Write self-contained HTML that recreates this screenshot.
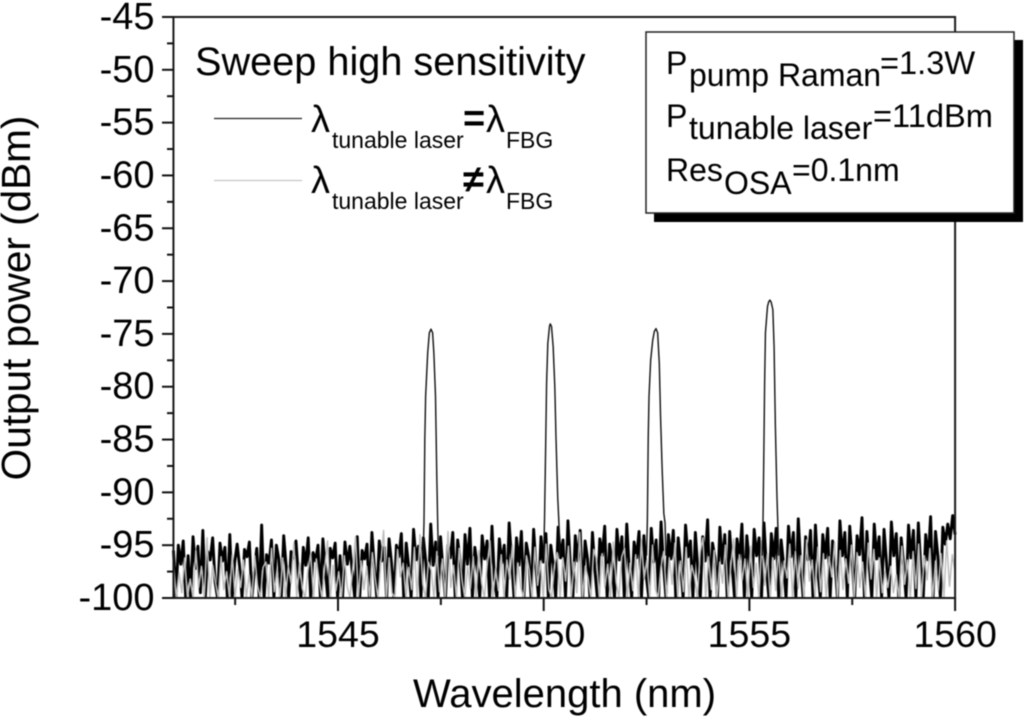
<!DOCTYPE html>
<html lang="en">
<head>
<meta charset="utf-8">
<title>Output power vs wavelength</title>
<style>
html,body{margin:0;padding:0;background:#fff;}
svg{display:block;font-family:"Liberation Sans",Arial,sans-serif;fill:#000;filter:blur(0.4px);}
</style>
</head>
<body>
<svg id="chart" xmlns="http://www.w3.org/2000/svg" width="1024" height="722" viewBox="0 0 1024 722">
  <g id="plot"></g>
  <g id="axes"></g>
  <text transform="translate(30,298) rotate(-90)" text-anchor="middle" font-size="40.5">Output power (dBm)</text>
  <text x="564.5" y="707" text-anchor="middle" font-size="40">Wavelength (nm)</text>

  <g>
    <text x="195" y="75" font-size="39.7">Sweep high sensitivity</text>
    <line x1="214" x2="302" y1="118.5" y2="118.5" stroke="#222" stroke-width="1.3"/>
    <text font-size="23">
      <tspan x="311" y="132" font-size="38">λ</tspan><tspan x="332" y="148">tunable laser</tspan><tspan x="463" y="131" font-size="38" font-weight="bold">=</tspan><tspan x="486" y="132" font-size="38">λ</tspan><tspan x="506" y="148">FBG</tspan>
    </text>
    <line x1="214" x2="302" y1="180.5" y2="180.5" stroke="#c4c4c4" stroke-width="1.3"/>
    <text font-size="23">
      <tspan x="311" y="193" font-size="38">λ</tspan><tspan x="332" y="209">tunable laser</tspan><tspan x="463" y="192" font-size="38" font-weight="bold">≠</tspan><tspan x="486" y="193" font-size="38">λ</tspan><tspan x="506" y="209">FBG</tspan>
    </text>
  </g>

  <g>
    <rect x="654" y="40" width="369" height="182" fill="#000"/>
    <rect x="646" y="32" width="368" height="181" fill="#fff" stroke="#222" stroke-width="1.5"/>
    <text font-size="32">
      <tspan x="666" y="74">P</tspan><tspan x="689" y="86">pump Raman</tspan><tspan x="880" y="74" font-size="32.6">=1.3W</tspan>
    </text>
    <text font-size="32">
      <tspan x="666" y="127">P</tspan><tspan x="689" y="139">tunable laser</tspan><tspan x="873" y="127" font-size="32.6">=11dBm</tspan>
    </text>
    <text font-size="32">
      <tspan x="666" y="181">Res</tspan><tspan x="724" y="194">OSA</tspan><tspan x="792" y="181">=0.1nm</tspan>
    </text>
  </g>
</svg>
<script>
// ----- chart data -----
const xTickLabels = [1545, 1550, 1555, 1560];
const yTickLabels = [-45, -50, -55, -60, -65, -70, -75, -80, -85, -90, -95, -100];
const xMinorTicks = [1542.5, 1547.5, 1552.5, 1557.5];
const yMinorTicks = [-47.5, -52.5, -57.5, -62.5, -67.5, -72.5, -77.5, -82.5, -87.5, -92.5, -97.5];
const noiseStartNm = 1541;
const noiseEndNm = 1560;

const noiseMatched = [
-95.5,-100,-95.0,-96.8,-94.6,-100,-96.0,-100,-94.2,-97.2,-95.1,-99.5,-93.6,-100,-95.6,-96.4,-94.3,-98.5,-100,-94.8,
-96.5,-95.2,-100,-94.0,-100,-96.6,-94.9,-97.0,-100,-95.4,-96.1,-94.7,-100,-97.5,-95.3,-100,-93.1,-100,-95.9,-96.7,
-94.5,-100,-95.0,-96.3,-100,-94.1,-97.0,-100,-95.6,-96.2,-94.6,-98.0,-100,-95.2,-96.9,-94.3,-100,-95.7,-96.5,-95.0,
-100,-94.4,-97.4,-100,-95.3,-96.2,-94.8,-100,-96.0,-100,-94.7,-96.8,-95.1,-97.6,-100,-94.2,-100,-95.5,-96.3,-94.9,
-100,-93.8,-97.1,-100,-94.6,-96.5,-95.2,-100,-94.4,-96.7,-100,-95.0,-96.1,-93.9,-100,-94.8,-97.0,-100,-93.5,-96.4,
-95.1,-100,-94.3,-96.6,-100,-93.0,-96.9,-94.7,-100,-94.2,-97.3,-100,-95.0,-96.2,-93.8,-100,-94.5,-96.5,-100,-94.0,
-96.8,-93.4,-100,-95.2,-97.0,-100,-94.1,-96.3,-94.6,-100,-93.2,-98.2,-100,-94.4,-96.7,-95.0,-100,-92.9,-96.4,-100,
-94.3,-96.9,-93.7,-100,-94.8,-96.1,-100,-93.5,-97.2,-100,-94.2,-96.6,-93.9,-100,-95.0,-96.8,-100,-93.3,-96.2,-94.5,
-100,-92.7,-97.0,-100,-94.1,-96.5,-93.6,-100,-94.6,-96.3,-100,-93.8,-97.4,-100,-94.4,-96.0,-93.2,-100,-94.9,-96.7,
-100,-93.5,-96.4,-94.2,-100,-93.0,-97.1,-100,-94.7,-96.2,-93.7,-100,-94.1,-98.0,-100,-93.4,-96.6,-94.5,-100,-92.8,
-96.9,-100,-94.0,-96.3,-93.6,-100,-94.3,-96.8,-100,-93.1,-96.1,-94.6,-100,-93.8,-97.3,-100,-94.2,-96.5,-92.6,-100,
-94.8,-96.2,-100,-93.3,-96.7,-94.0,-100,-93.7,-97.0,-100,-94.4,-96.4,-93.0,-100,-94.1,-96.6,-100,-93.5,-96.0,-94.3,
-100,-92.9,-97.2,-100,-93.9,-96.3,-93.4,-100,-94.5,-96.8,-100,-93.2,-96.1,-93.8,-100,-92.5,-96.9,-100,-94.2,-96.4,
-93.6,-100,-93.1,-97.5,-100,-94.0,-96.2,-93.4,-100,-94.6,-96.7,-100,-92.7,-96.0,-93.8,-100,-93.2,-96.5,-100,-94.1,
-95.9,-92.4,-100,-93.7,-97.1,-100,-93.0,-96.3,-94.2,-100,-93.5,-96.6,-100,-92.8,-96.0,-93.9,-100,-94.3,-96.8,-100,
-93.1,-96.2,-93.6,-100,-92.9,-97.0,-100,-94.0,-96.4,-92.3,-100,-93.7,-96.1,-100,-93.3,-94.9,-93.0,-94.4,-92.2,-94.0
];

const noiseMismatched = [
-96.8,-100,-97.6,-99.5,-96.2,-100,-98.2,-100,-95.5,-99,-97.0,-100,-94.3,-100,-96.9,-98.5,-100,-96.1,-99.2,-97.5,
-100,-95.9,-100,-97.3,-99,-96.4,-100,-97.8,-100,-96.0,-98.8,-100,-97.1,-96.6,-100,-95.3,-99.4,-97.3,-100,-96.2,
-100,-97.0,-98.6,-94.8,-100,-96.7,-99.1,-100,-97.4,-95.8,-100,-96.3,-98.4,-100,-97.1,-94.6,-100,-96.9,-99.3,-97.5,
-100,-96.0,-98.9,-100,-97.2,-94.2,-100,-96.5,-99.2,-97.0,-100,-95.7,-98.1,-100,-96.8,-93.6,-100,-96.2,-99.5,-100,
-95.4,-98.0,-96.7,-100,-97.1,-99.2,-95.2,-100,-94.0,-98.7,-100,-96.6,-97.4,-100,-95.6,-99.4,-96.3,-100,-93.7,-99.0,
-96.9,-100,-95.3,-98.3,-100,-97.0,-99.1,-96.1,-100,-95.5,-98.6,-100,-96.8,-94.6,-100,-97.2,-99.3,-95.9,-100,-96.4,
-98.2,-95.0,-100,-96.7,-99.0,-100,-96.0,-97.3,-100,-95.2,-98.8,-96.5,-100,-94.9,-99.2,-100,-96.9,-95.7,-100,-96.2,
-98.4,-95.1,-100,-96.6,-99.5,-93.8,-100,-97.0,-98.1,-100,-95.4,-96.3,-100,-95.8,-99.0,-96.8,-100,-94.7,-98.5,-100,
-96.1,-95.3,-100,-96.7,-99.3,-95.9,-100,-94.5,-98.2,-96.4,-100,-95.0,-99.1,-100,-97.1,-95.6,-100,-96.2,-98.7,-94.8,
-100,-96.5,-99.4,-95.2,-100,-96.9,-98.0,-100,-95.7,-94.3,-100,-96.1,-99.2,-95.5,-100,-96.6,-98.6,-95.0,-100,-96.8,
-94.4,-100,-95.9,-98.3,-96.3,-100,-95.1,-99.0,-96.7,-100,-94.6,-98.8,-95.8,-100,-96.2,-99.3,-95.3,-100,-96.5,-98.1,
-94.9,-100,-95.6,-99.1,-96.0,-100,-94.5,-98.4,-96.4,-100,-95.2,-99.4,-95.8,-100,-96.1,-98.0,-94.7,-100,-95.5,-99.2,
-96.3,-98.6,-95.0,-100,-95.7,-99.0,-96.6,-100,-94.8,-98.2,-95.4,-100,-96.2,-99.5,-97.5,-99,-97.0,-99.5,-97.8,-100,
-95.1,-98.7,-96.4,-100,-95.6,-99.1,-94.9,-100,-96.0,-98.3,-95.3,-100,-96.5,-99.3,-95.8,-100,-94.6,-98.9,-95.9,-97.5
];

const peak1Nm = [1547.07,1547.09,1547.11,1547.13,1547.18,1547.22,1547.26,1547.30,1547.33,1547.37,1547.40,1547.42,1547.44];
const peak1Dbm = [-96,-92.9,-85,-80.9,-76.8,-74.9,-74.55,-74.9,-76.8,-80.9,-88.2,-92.3,-96];
const peak2Nm = [1550.00,1550.02,1550.05,1550.07,1550.10,1550.14,1550.16,1550.19,1550.23,1550.27,1550.30,1550.34,1550.37,1550.39];
const peak2Dbm = [-96,-92.6,-85,-79.7,-75.9,-74.3,-74.05,-74.3,-76.2,-80,-85,-90.4,-92.9,-96];
const peak3Nm = [1552.50,1552.52,1552.54,1552.56,1552.60,1552.65,1552.69,1552.73,1552.77,1552.81,1552.84,1552.88,1552.92,1552.95,1552.97];
const peak3Dbm = [-96,-92.6,-85,-80.9,-77.5,-75.6,-74.75,-74.5,-74.9,-77.8,-82.8,-87.9,-92,-92.9,-96];
const peak4Nm = [1555.31,1555.33,1555.35,1555.37,1555.39,1555.44,1555.47,1555.50,1555.53,1555.57,1555.60,1555.63,1555.67,1555.69,1555.71];
const peak4Dbm = [-96,-92.9,-86.6,-79.7,-74.9,-72.4,-71.95,-71.8,-72,-72.7,-76.2,-83.5,-90.4,-92.9,-96];

// ----- axis functions -----
const SVGNS = 'http://www.w3.org/2000/svg';
const xScale = nm => 338 + (nm - 1545) * 41.14;
const yScale = dbm => 598 - (dbm + 100) * 10.564;
const plot = document.getElementById('plot');
const axes = document.getElementById('axes');

function make(tag, attrs, parent) {
  const el = document.createElementNS(SVGNS, tag);
  for (const k in attrs) el.setAttribute(k, attrs[k]);
  parent.appendChild(el);
  return el;
}
function noisePoints(values) {
  const step = (noiseEndNm - noiseStartNm) / (values.length - 1);
  return values.map((v, i) => xScale(noiseStartNm + i * step).toFixed(2) + ',' + yScale(v).toFixed(2)).join(' ');
}
function peakPoints(nm, dbm) {
  return nm.map((w, i) => xScale(w).toFixed(2) + ',' + yScale(dbm[i]).toFixed(2)).join(' ');
}

const matchedLine = make('polyline', {points: noisePoints(noiseMatched), fill: 'none', stroke: '#000', 'stroke-width': 2.9, 'stroke-linejoin': 'round'}, plot);



const mismatchedLine = make('polyline', {points: noisePoints(noiseMismatched), fill: 'none', stroke: '#bdbdbd', 'stroke-width': 1.5, 'stroke-linejoin': 'round'}, plot);



const peakSeries = [[peak1Nm, peak1Dbm], [peak2Nm, peak2Dbm], [peak3Nm, peak3Dbm], [peak4Nm, peak4Dbm]];
peakSeries.forEach(function (p) {
  const peak = make('polyline', {points: peakPoints(p[0], p[1]), fill: 'none', stroke: '#111', 'stroke-width': 1.4, 'stroke-linejoin': 'round'}, plot);
  
  
});

// mask anything below the plot floor so thick noise strokes do not overshoot the axis
const floorMask = make('rect', {x: 150, y: 599, width: 830, height: 6, fill: '#fff'}, plot);



// frame
const frame = make('rect', {x: xScale(1541), y: yScale(-45), width: xScale(1560) - xScale(1541), height: yScale(-100) - yScale(-45), fill: 'none', stroke: '#1a1a1a', 'stroke-width': 2}, axes);



// x ticks
xTickLabels.forEach(function (v) {
  const tick = make('line', {x1: xScale(v), x2: xScale(v), y1: 598, y2: 611, stroke: '#111', 'stroke-width': 2}, axes);
  
  
  const label = make('text', {x: xScale(v), y: 647, 'text-anchor': 'middle', 'font-size': 37.5}, axes);
  
  
  label.textContent = v;
});
xMinorTicks.forEach(function (v) {
  const tick = make('line', {x1: xScale(v), x2: xScale(v), y1: 598, y2: 605, stroke: '#111', 'stroke-width': 2}, axes);
  
  
});

// y ticks
yTickLabels.forEach(function (v) {
  const tick = make('line', {x1: 162, x2: 174, y1: yScale(v), y2: yScale(v), stroke: '#111', 'stroke-width': 2}, axes);
  
  
  const label = make('text', {x: 154.5, y: yScale(v) + 12, 'text-anchor': 'end', 'font-size': 38}, axes);
  
  
  label.textContent = v;
});
yMinorTicks.forEach(function (v) {
  const tick = make('line', {x1: 167, x2: 174, y1: yScale(v), y2: yScale(v), stroke: '#111', 'stroke-width': 2}, axes);
  
  
});
</script>
</body>
</html>
